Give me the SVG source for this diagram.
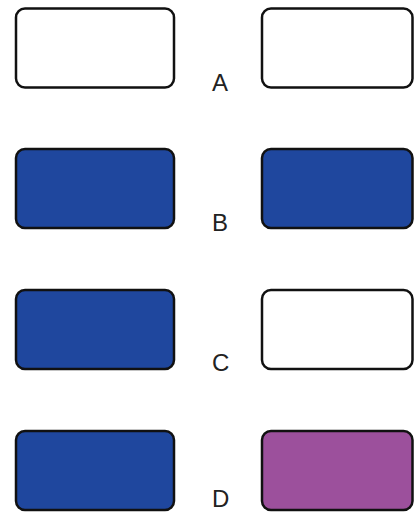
<svg xmlns="http://www.w3.org/2000/svg" width="414" height="512" viewBox="0 0 414 512">
<style>
.box{stroke:#111;stroke-width:2.5}
.w{fill:#fff}
.b{fill:#1f479e}
.p{fill:#9c509c}
.lbl{font-family:"Liberation Sans",Arial,sans-serif;font-size:24px;fill:#222}
</style>
<rect width="414" height="512" fill="#fff"/>
<g id="A-left"><rect class="box w" x="16" y="8.5" width="158" height="79" rx="9"/></g>
<g id="A-right"><rect class="box w" x="262" y="8.5" width="150.5" height="79" rx="9"/></g>
<g id="label-A"><text class="lbl" x="212" y="91">A</text></g>
<g id="B-left"><rect class="box b" x="16" y="149" width="158" height="79" rx="9"/></g>
<g id="B-right"><rect class="box b" x="262" y="149" width="150.5" height="79" rx="9"/></g>
<g id="label-B"><text class="lbl" x="212" y="231">B</text></g>
<g id="C-left"><rect class="box b" x="16" y="290" width="158" height="79" rx="9"/></g>
<g id="C-right"><rect class="box w" x="262" y="290" width="150.5" height="79" rx="9"/></g>
<g id="label-C"><text class="lbl" x="212" y="371">C</text></g>
<g id="D-left"><rect class="box b" x="16" y="431" width="158" height="79" rx="9"/></g>
<g id="D-right"><rect class="box p" x="262" y="431" width="150.5" height="79" rx="9"/></g>
<g id="label-D"><text class="lbl" x="212" y="507">D</text></g>
<g id="connectors"></g>
</svg>
